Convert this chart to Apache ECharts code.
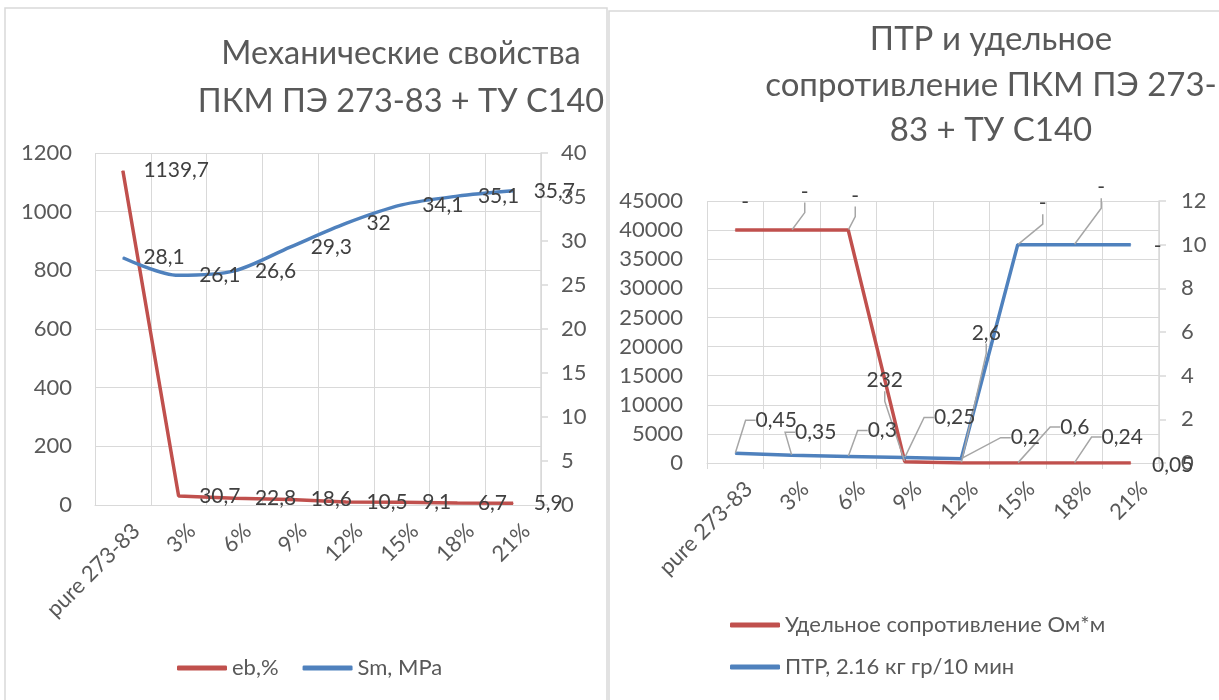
<!DOCTYPE html>
<html lang="ru">
<head>
    <meta charset="utf-8">
    <title>ПКМ ПЭ 273-83 + ТУ С140</title>
    <script src="https://cdn.jsdelivr.net/npm/echarts@6/dist/echarts.min.js"></script>
    <style>
        html, body { margin: 0; padding: 0; background: #fff; }
        #chart { width: 1219px; height: 700px; }
    </style>
</head>
<body>
<div id="chart"></div>
<script type="text/javascript">
    // categories (shared by both charts)
    var categories = ['pure 273-83', '3%', '6%', '9%', '12%', '15%', '18%', '21%'];

    // left chart: mechanical properties
    var ebValues = [1139.7, 30.7, 22.8, 18.6, 10.5, 9.1, 6.7, 5.9];
    var smValues = [28.1, 26.1, 26.6, 29.3, 32, 34.1, 35.1, 35.7];

    // right chart: resistivity and MFR
    var resValues = [40000, 40000, 40000, 232, 2.6, 0.6, 0.24, 0.05];
    var resLabels = ['-', '-', '-', '232', '2,6', '0,6', '0,24', '0,05'];
    var mfrValues = [0.45, 0.35, 0.3, 0.25, 0.2, 10, 10, 10];
    var mfrLabels = ['0,45', '0,35', '0,3', '0,25', '0,2', '-', '-', '-'];

    // label placement (offset of label centre from its point), leader lines off where Excel had none
    var resShift = [[10, -28], [13, -38], [7, -34], [-20, -81], [25, -130], [57, -36], [48, -26], [42, 2]];
    var resNoLine = [0, 7];
    var mfrShift = [[41, -33], [24, -23], [34, -26], [50, -40], [64, -21], [25, -41], [27, -57], [27, 2]];
    var mfrNoLine = [7];

    var RED = '#C0504D';
    var BLUE = '#4F81BD';
    var GRID = '#d9d9d9';
    var TXT = '#595959';
    var FONT = 'Lato';

    function comma(v) {
        return String(v).replace('.', ',');
    }

    function withLeaders(values, noLine) {
        return values.map(function (v, i) {
            if (noLine.indexOf(i) >= 0) {
                return { value: v, labelLine: { show: false } };
            }
            return v;
        });
    }

    function catAxis(gridIndex, ticks) {
        return {
            type: 'category',
            gridIndex: gridIndex,
            data: categories,
            boundaryGap: true,
            axisLine: { lineStyle: { color: GRID, width: 1 } },
            axisTick: { show: ticks, length: 6, lineStyle: { color: GRID } },
            splitLine: { show: true, lineStyle: { color: GRID, width: 1 } },
            axisLabel: {
                rotate: 45, margin: 9, verticalAlign: 'top', padding: [8, 0, 0, 0], interval: 0,
                color: TXT, fontSize: 22, fontFamily: FONT
            }
        };
    }

    function valAxis(gridIndex, pos, max, interval, margin, line) {
        return {
            type: 'value',
            gridIndex: gridIndex,
            position: pos,
            min: 0,
            max: max,
            interval: interval,
            axisLine: { show: line, lineStyle: { color: GRID, width: 1.5 } },
            axisTick: { show: line, inside: false, length: 7, lineStyle: { color: GRID, width: 1.5 } },
            splitLine: { show: !line, lineStyle: { color: GRID, width: 1 } },
            axisLabel: {
                margin: margin, color: TXT, fontSize: 22, fontFamily: FONT,
                formatter: function (v) { return String(v); }
            }
        };
    }

    var chart = echarts.init(document.getElementById('chart'), null, { renderer: 'canvas' });

    var option = {
        animation: false,
        backgroundColor: '#fff',
        textStyle: { fontFamily: FONT },
        graphic: [
            { type: 'rect', shape: { x: 5, y: 8, width: 602, height: 700 }, style: { fill: 'none', stroke: GRID, lineWidth: 1.5 }, silent: true },
            { type: 'rect', shape: { x: 609, y: 11, width: 620, height: 700 }, style: { fill: 'none', stroke: GRID, lineWidth: 1.5 }, silent: true }
        ],
        title: [
            {
                text: 'Механические свойства\nПКМ ПЭ 273-83 + ТУ С140',
                left: 396,
                top: 25,
                textAlign: 'center',
                textStyle: { color: TXT, fontSize: 32.5, fontWeight: 'normal', fontFamily: FONT, lineHeight: 48 }
            },
            {
                text: 'ПТР и удельное\nсопротивление ПКМ ПЭ 273-\n83 + ТУ С140',
                left: 986,
                top: 12,
                textAlign: 'center',
                textStyle: { color: TXT, fontSize: 33, fontWeight: 'normal', fontFamily: FONT, lineHeight: 45.5 }
            }
        ],
        legend: [
            {
                data: ['eb,%', 'Sm, MPa'],
                left: 172,
                top: 652,
                icon: 'roundRect',
                itemWidth: 50,
                itemHeight: 5,
                itemGap: 24,
                textStyle: { color: TXT, fontSize: 22, fontFamily: FONT }
            },
            {
                data: ['Удельное сопротивление Ом*м', 'ПТР, 2.16 кг гр/10 мин'],
                orient: 'vertical',
                left: 725,
                top: 609,
                icon: 'roundRect',
                itemWidth: 50,
                itemHeight: 5,
                itemGap: 20,
                textStyle: { color: TXT, fontSize: 22, fontFamily: FONT }
            }
        ],
        grid: [
            { left: 95, right: 678, top: 153, bottom: 195, outerBoundsMode: 'none' },
            { left: 707, right: 60, top: 201, bottom: 237, outerBoundsMode: 'none' }
        ],
        xAxis: [catAxis(0, false), catAxis(1, true)],
        yAxis: [
            valAxis(0, 'left', 1200, 200, 23, false),
            valAxis(0, 'right', 40, 5, 20, true),
            valAxis(1, 'left', 45000, 5000, 24, false),
            valAxis(1, 'right', 12, 2, 22, true)
        ],
        series: [
            {
                name: 'eb,%',
                type: 'line',
                xAxisIndex: 0,
                yAxisIndex: 0,
                data: ebValues,
                symbol: 'circle',
                symbolSize: 1,
                color: RED,
                lineStyle: { color: RED, width: 3.5 },
                label: {
                    show: true, position: 'right', distance: 20,
                    color: '#404040', fontSize: 21, fontFamily: FONT,
                    formatter: function (p) { return comma(p.value); }
                }
            },
            {
                name: 'Sm, MPa',
                type: 'line',
                xAxisIndex: 0,
                yAxisIndex: 1,
                data: smValues,
                smooth: 0.3,
                symbol: 'circle',
                symbolSize: 1,
                color: BLUE,
                lineStyle: { color: BLUE, width: 3.5 },
                label: {
                    show: true, position: 'right', distance: 20,
                    color: '#404040', fontSize: 21, fontFamily: FONT,
                    formatter: function (p) { return comma(p.value); }
                }
            },
            {
                name: 'Удельное сопротивление Ом*м',
                type: 'line',
                xAxisIndex: 1,
                yAxisIndex: 2,
                data: withLeaders(resValues, resNoLine),
                symbol: 'circle',
                symbolSize: 1,
                color: RED,
                lineStyle: { color: RED, width: 3.5 },
                label: {
                    show: true, position: 'inside',
                    color: '#404040', fontSize: 21, fontFamily: FONT,
                    formatter: function (p) { return resLabels[p.dataIndex]; }
                },
                labelLine: { show: true, length2: 10, lineStyle: { color: '#a6a6a6', width: 1.5 } },
                labelLayout: function (p) {
                    var s = resShift[p.dataIndex];
                    return { dx: s[0], dy: s[1] };
                }
            },
            {
                name: 'ПТР, 2.16 кг гр/10 мин',
                type: 'line',
                xAxisIndex: 1,
                yAxisIndex: 3,
                data: withLeaders(mfrValues, mfrNoLine),
                symbol: 'circle',
                symbolSize: 1,
                color: BLUE,
                lineStyle: { color: BLUE, width: 3.5 },
                label: {
                    show: true, position: 'inside',
                    color: '#404040', fontSize: 21, fontFamily: FONT,
                    formatter: function (p) { return mfrLabels[p.dataIndex]; }
                },
                labelLine: { show: true, length2: 10, lineStyle: { color: '#a6a6a6', width: 1.5 } },
                labelLayout: function (p) {
                    var s = mfrShift[p.dataIndex];
                    return { dx: s[0], dy: s[1] };
                }
            }
        ]
    };

    chart.setOption(option);
</script>
</body>
</html>
